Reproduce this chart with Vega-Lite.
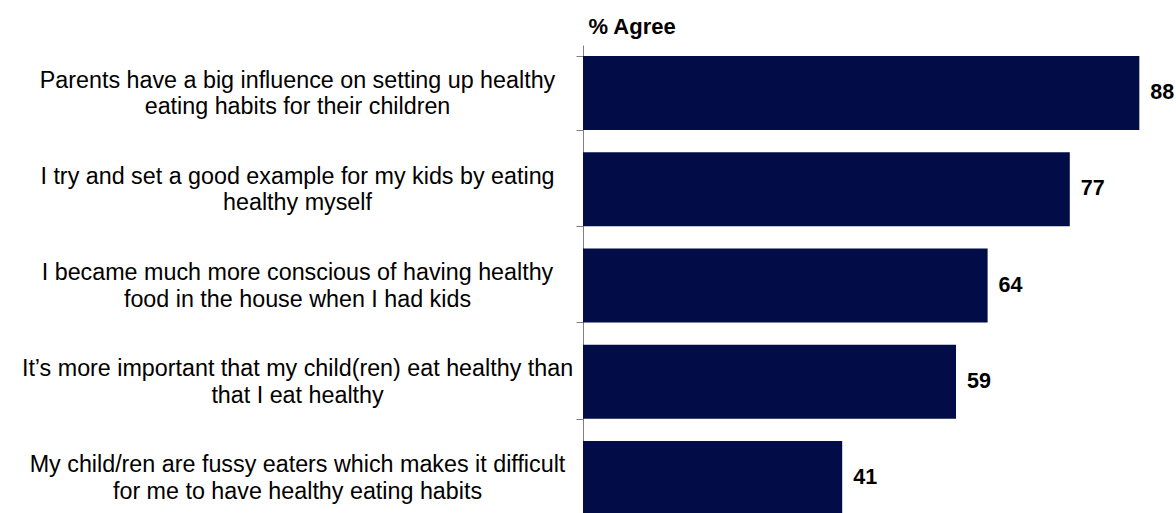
{
  "$schema": "https://vega.github.io/schema/vega-lite/v6.json",
  "autosize": "none",
  "padding": {"left": 583, "top": 45, "right": 0, "bottom": 0},
  "width": 593,
  "height": 481,
  "background": "white",
  "config": {"view": {"stroke": null}, "font": "Liberation Sans"},
  "data": {
    "values": [
      {"statement": "Parents have a big influence on setting up healthy|eating habits for their children", "agree": 88},
      {"statement": "I try and set a good example for my kids by eating|healthy myself", "agree": 77},
      {"statement": "I became much more conscious of having healthy|food in the house when I had kids", "agree": 64},
      {"statement": "It’s more important that my child(ren) eat healthy than|that I eat healthy", "agree": 59},
      {"statement": "My child/ren are fussy eaters which makes it difficult|for me to have healthy eating habits", "agree": 41}
    ]
  },
  "encoding": {
    "y": {
      "field": "statement",
      "type": "nominal",
      "sort": null,
      "scale": {"paddingInner": 0.231, "paddingOuter": 0.1155},
      "axis": {
        "title": null,
        "orient": "left",
        "tickBand": "extent",
        "tickSize": 7,
        "tickColor": "#808080",
        "domainColor": "#808080",
        "labelAlign": "center",
        "labelBaseline": "middle",
        "labelPadding": 279,
        "labelOffset": -13,
        "labelFontSize": 23.3,
        "labelLimit": 0,
        "labelLineHeight": 26.5,
        "labelColor": "black",
        "labelExpr": "split(datum.label, '|')",
        "grid": false
      }
    },
    "x": {
      "field": "agree",
      "type": "quantitative",
      "scale": {"domain": [0, 93.8], "nice": false},
      "axis": {
        "orient": "top",
        "labels": false,
        "ticks": false,
        "domain": false,
        "grid": false,
        "title": "% Agree",
        "titleX": 5,
        "titleY": -12,
        "titleAlign": "left",
        "titleAnchor": "start",
        "titleBaseline": "alphabetic",
        "titleFontSize": 22,
        "titleFontWeight": "bold",
        "titleColor": "black"
      }
    }
  },
  "layer": [
    {"mark": {"type": "bar", "color": "#020C46"}},
    {
      "mark": {"type": "text", "align": "left", "baseline": "middle", "dx": 11, "fontSize": 21.5, "fontWeight": "bold", "color": "black"},
      "encoding": {"text": {"field": "agree", "type": "quantitative"}}
    }
  ]
}
